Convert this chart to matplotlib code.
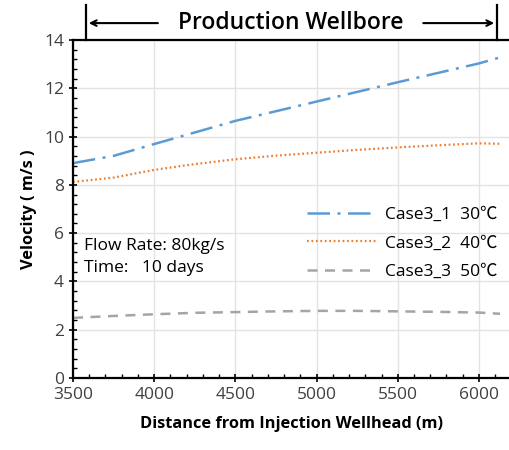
import numpy as np
import matplotlib.pyplot as plt
from matplotlib.ticker import MultipleLocator

plt.rcParams['font.family'] = ['Open Sans', 'Noto Sans CJK SC', 'DejaVu Sans']

# distance from injection wellhead (m)
dist = [3500, 3750, 4000, 4250, 4500, 4750, 5000, 5250, 5500, 5750, 6000, 6130]
# velocity (m/s)
case3_1 = [8.90, 9.20, 9.69, 10.17, 10.65, 11.05, 11.45, 11.85, 12.25, 12.64, 13.03, 13.28]
case3_2 = [8.12, 8.30, 8.62, 8.86, 9.06, 9.21, 9.33, 9.45, 9.55, 9.64, 9.72, 9.70]
case3_3 = [2.49, 2.57, 2.64, 2.70, 2.73, 2.76, 2.78, 2.78, 2.76, 2.74, 2.71, 2.66]
labels = ['Case3_1  30\u2103', 'Case3_2  40\u2103', 'Case3_3  50\u2103']

fig = plt.figure(figsize=(5.09, 4.5), dpi=100)
ax = fig.add_axes([73/509, 72/450, 436/509, 338/450])

ax.plot(dist, case3_1, color='#5B9BD5', lw=1.8, dashes=(9, 3, 1.2, 3), label=labels[0])
ax.plot(dist, case3_2, color='#ED7D31', lw=1.6, dashes=(0.8, 1.2), label=labels[1])
ax.plot(dist, case3_3, color='#A5A5A5', lw=1.8, dashes=(4, 3), label=labels[2])

ax.set_xlim(3500, 6185)
ax.set_ylim(0, 14)
ax.xaxis.set_major_locator(MultipleLocator(500))
ax.xaxis.set_minor_locator(MultipleLocator(100))
ax.yaxis.set_major_locator(MultipleLocator(2))
ax.yaxis.set_minor_locator(MultipleLocator(0.4))
ax.grid(True, which='major', color='#E3E3E3', lw=1)
ax.set_axisbelow(True)
ax.tick_params(which='major', direction='inout', length=6, width=1.2, labelsize=12.5,
               labelcolor='#404040')
ax.tick_params(which='minor', direction='in', length=3, width=1)
for side in ['left', 'bottom', 'top']:
    ax.spines[side].set_linewidth(1.6)
ax.spines['right'].set_visible(False)

ax.set_xlabel('Distance from Injection Wellhead (m)', fontsize=11.8, fontweight='bold', labelpad=9)
ax.set_ylabel('Velocity ( m/s )', fontsize=11.8, fontweight='bold', labelpad=5)

ax.legend(loc='upper left', bbox_to_anchor=(0.50, 0.553), frameon=False, fontsize=12.5,
          handlelength=4.0, handletextpad=0.5, labelspacing=0.72)

ax.text(3570, 5.45, 'Flow Rate: 80kg/s', fontsize=12.5, va='center')
ax.text(3570, 4.55, 'Time:   10 days', fontsize=12.5, va='center')

# production wellbore marker above the axes
trans = ax.get_xaxis_transform()
ax.plot([3580, 3580], [1.0, 1.104], transform=trans, color='black', lw=1.6, clip_on=False)
ax.plot([6111, 6111], [1.0, 1.104], transform=trans, color='black', lw=1.6, clip_on=False)
ax.annotate('', xy=(3580, 1.05), xytext=(4040, 1.05), xycoords=trans,
            arrowprops=dict(arrowstyle='->', lw=1.5, color='black'), annotation_clip=False)
ax.annotate('', xy=(6111, 1.05), xytext=(5640, 1.05), xycoords=trans,
            arrowprops=dict(arrowstyle='->', lw=1.5, color='black'), annotation_clip=False)
ax.text(4840, 1.05, 'Production Wellbore', transform=trans, fontsize=16.5,
        fontweight='semibold', ha='center', va='center')

fig.savefig('out.png', dpi=100)
